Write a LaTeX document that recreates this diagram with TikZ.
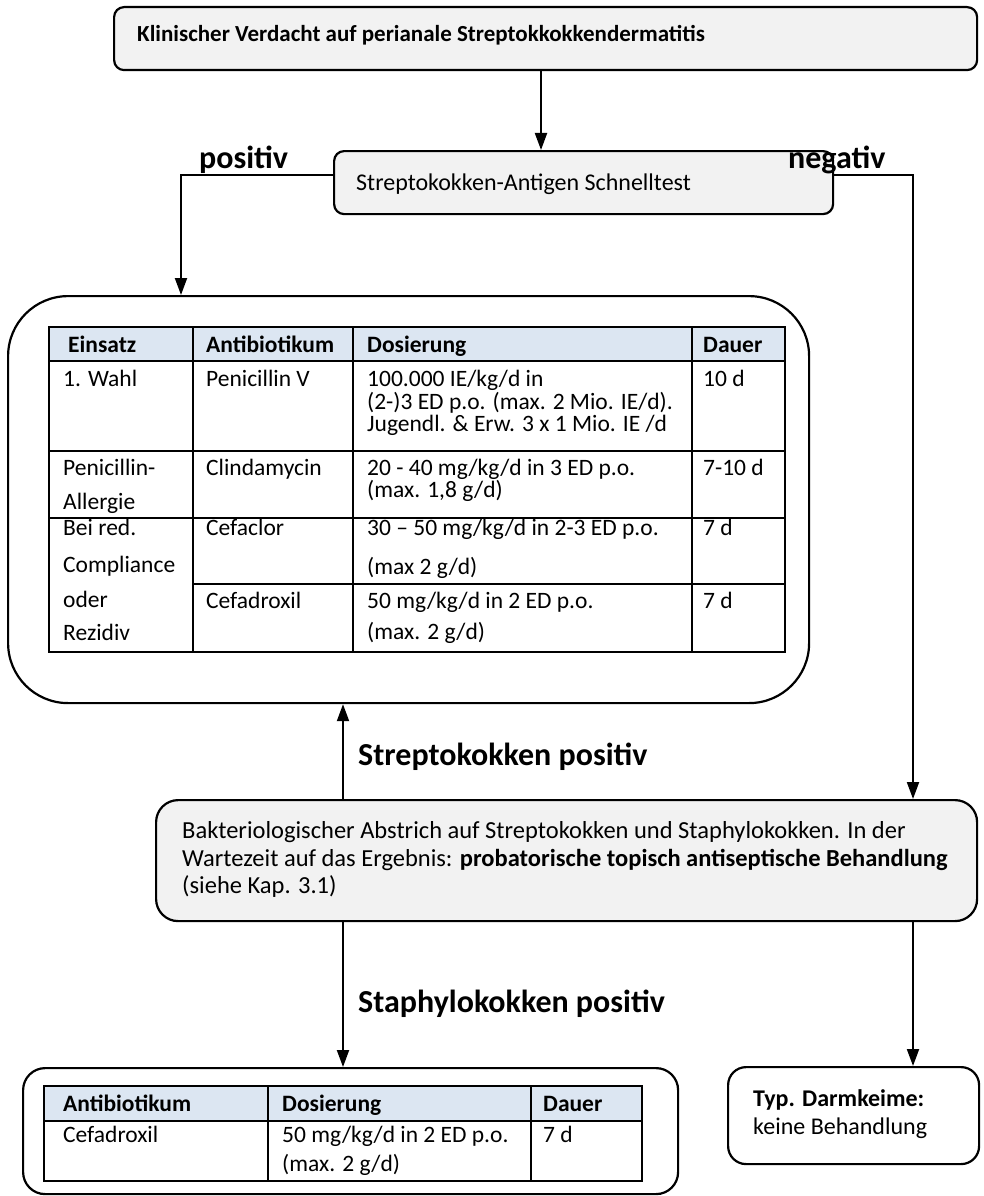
\documentclass[tikz,border=0pt]{standalone}
\usepackage{fontspec}
\setmainfont{Carlito}
\usetikzlibrary{arrows.meta}
\definecolor{boxgray}{HTML}{F2F2F2}
\definecolor{headblue}{HTML}{DCE6F2}
\begin{document}
\begin{tikzpicture}[x=1pt,y=-1pt,
  box/.style={draw, line width=2.2pt, rounded corners=#1, inner sep=0pt, anchor=north west},
  grid/.style={line width=1.8pt},
  arr/.style={line width=2pt, -{Triangle[length=17pt,width=12pt]}},
  txt/.style={anchor=base west, inner sep=0pt, font=\fontsize{23.5}{26}\selectfont},
  htxt/.style={txt, font=\fontsize{23.5}{26}\selectfont\bfseries},
  btxt/.style={anchor=base west, inner sep=0pt, font=\fontsize{24}{28}\selectfont},
  mtxt/.style={anchor=base west, inner sep=0pt, font=\fontsize{24.5}{28}\selectfont},
  lbl/.style={anchor=base west, inner sep=0pt, font=\fontsize{32}{36}\selectfont\bfseries},
]
\useasboundingbox (0,0) rectangle (984,1196);

% ---- boxes ----
\node[box=10pt, fill=boxgray, minimum width=863pt, minimum height=63pt] (top) at (113,6) {};
\node[box=10pt, fill=boxgray, minimum width=499pt, minimum height=63pt] (test) at (333,150) {};
\node[box=60pt, minimum width=801pt, minimum height=407pt] (big) at (7,295) {};
\node[box=22pt, fill=boxgray, minimum width=821pt, minimum height=121pt] (mid) at (155,799) {};
\node[box=22pt, minimum width=655pt, minimum height=126pt] (stab) at (22,1067) {};
\node[box=18pt, minimum width=251pt, minimum height=97pt] (typ) at (727,1066) {};

% ---- box texts ----
\node[btxt, font=\fontsize{23}{26}\selectfont\bfseries] (toptext) at (137,42) {Klinischer Verdacht auf perianale Streptokkokkendermatitis};
\node[btxt] (testtext) at (356,190) {Streptokokken-Antigen Schnelltest};
\node[mtxt] (mid1) at (182,838) {Bakteriologischer Abstrich auf Streptokokken und Staphylokokken. In der};
\node[mtxt] (mid2) at (182,866) {Wartezeit auf das Ergebnis: \textbf{probatorische topisch antiseptische Behandlung}};
\node[mtxt] (mid3) at (182,893) {(siehe Kap. 3.1)};
\node[btxt, font=\fontsize{24}{28}\selectfont\bfseries] (typ1) at (753,1106) {Typ. Darmkeime:};
\node[btxt] (typ2) at (753,1134) {keine Behandlung};

% ---- connectors ----
\coordinate (xa) at (541,0);
\coordinate (xl) at (181,0);
\coordinate (xr) at (913,0);
\coordinate (xm) at (343,0);
\coordinate (yl) at (0,175);
\draw[arr] (top.south -| xa) -- (test.north -| xa);
\draw[arr] (test.west |- yl) -| (big.north -| xl);
\draw[arr] (test.east |- yl) -| (mid.north -| xr);
\draw[arr] (mid.north -| xm) -- (big.south -| xm);
\draw[arr] (mid.south -| xm) -- (stab.north -| xm);
\draw[arr] (mid.south -| xr) -- (typ.north -| xr);

% ---- connector labels ----
\node[lbl] (pos) at (199,168) {positiv};
\node[lbl] (neg) at (788,168) {negativ};
\node[lbl] (strpos) at (358,765) {Streptokokken positiv};
\node[lbl] (stapos) at (358,1012) {Staphylokokken positiv};

% ---- main therapy table ----
\fill[headblue] (49,327) rectangle (785,361);
\draw[grid] (49,327) rectangle (785,652);
\draw[grid] (49,361) -- (785,361);
\draw[grid] (49,451) -- (785,451);
\draw[grid] (49,518) -- (785,518);
\draw[grid] (193,584) -- (785,584);
\draw[grid] (193,327) -- (193,652);
\draw[grid] (353,327) -- (353,652);
\draw[grid] (692,327) -- (692,652);

\node[htxt] (h1) at (68,352) {Einsatz};
\node[htxt] (h2) at (206,352) {Antibiotikum};
\node[htxt] (h3) at (367,352) {Dosierung};
\node[htxt] (h4) at (703,352) {Dauer};

\node[txt] (r1a) at (63,386) {1. Wahl};
\node[txt] (r1b) at (206,386) {Penicillin V};
\node[txt] (r1c1) at (367,386) {100.000 IE/kg/d in};
\node[txt] (r1c2) at (367,409) {(2-)3 ED p.o. (max. 2 Mio. IE/d).};
\node[txt] (r1c3) at (367,431) {Jugendl. \& Erw. 3 x 1 Mio. IE /d};
\node[txt] (r1d) at (703,386) {10 d};

\node[txt] (r2a1) at (63,475) {Penicillin-};
\node[txt] (r2a2) at (63,509) {Allergie};
\node[txt] (r2b) at (206,475) {Clindamycin};
\node[txt] (r2c1) at (367,475) {20 - 40 mg/kg/d in 3 ED p.o.};
\node[txt] (r2c2) at (367,497) {(max. 1,8 g/d)};
\node[txt] (r2d) at (703,475) {7-10 d};

\node[txt] (r3a1) at (63,535) {Bei red.};
\node[txt] (r3a2) at (63,572) {Compliance};
\node[txt] (r3a3) at (63,607) {oder};
\node[txt] (r3a4) at (63,640) {Rezidiv};
\node[txt] (r3b) at (206,535) {Cefaclor};
\node[txt] (r3c1) at (367,535) {30 -- 50 mg/kg/d in 2-3 ED p.o.};
\node[txt] (r3c2) at (367,574) {(max 2 g/d)};
\node[txt] (r3d) at (703,535) {7 d};

\node[txt] (r4b) at (206,608) {Cefadroxil};
\node[txt] (r4c1) at (367,608) {50 mg/kg/d in 2 ED p.o.};
\node[txt] (r4c2) at (367,639) {(max. 2 g/d)};
\node[txt] (r4d) at (703,608) {7 d};

% ---- staphylococcus table ----
\fill[headblue] (44,1086) rectangle (642,1121);
\draw[grid] (44,1086) rectangle (642,1181);
\draw[grid] (44,1121) -- (642,1121);
\draw[grid] (268,1086) -- (268,1181);
\draw[grid] (531,1086) -- (531,1181);

\node[htxt] (sh1) at (63,1111) {Antibiotikum};
\node[htxt] (sh2) at (282,1111) {Dosierung};
\node[htxt] (sh3) at (543,1111) {Dauer};
\node[txt] (s1) at (63,1142) {Cefadroxil};
\node[txt] (s2a) at (282,1142) {50 mg/kg/d in 2 ED p.o.};
\node[txt] (s2b) at (282,1171) {(max. 2 g/d)};
\node[txt] (s3) at (543,1142) {7 d};
\end{tikzpicture}
\end{document}
